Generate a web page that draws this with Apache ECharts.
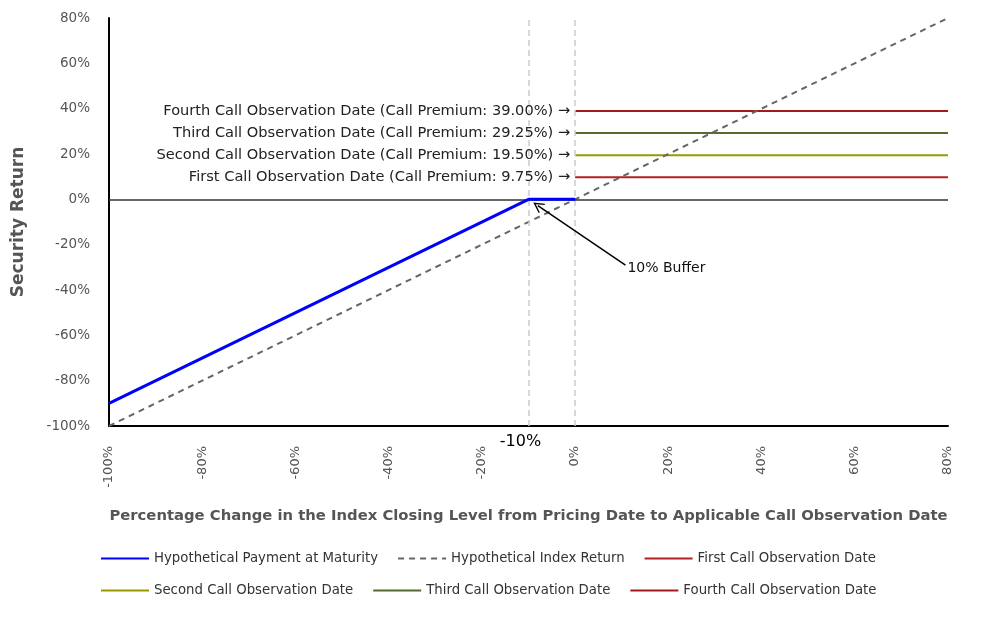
<!DOCTYPE html>
<html>
<head>
<meta charset="utf-8">
<script src="https://cdn.jsdelivr.net/npm/echarts@6/dist/echarts.min.js"></script>
<style>
  html, body { margin: 0; padding: 0; background: #fff; }
  #chart { width: 992px; height: 618px; }
</style>
</head>
<body>
<div id="chart"></div>
<script>
// data
var payoffX = [-100, -10, 0];
var payoffY = [-90, 0, 0];
var indexX = [-100, 80];
var indexY = [-100, 80];
var callNames = ['First Call Observation Date', 'Second Call Observation Date',
    'Third Call Observation Date', 'Fourth Call Observation Date'];
var callPremiums = [9.75, 19.5, 29.25, 39];
var callLabels = ['9.75%', '19.50%', '29.25%', '39.00%'];
var callColors = ['#b22222', '#999900', '#556b2f', '#a31a1a'];
var callRange = [0, 80];
var bufferLevel = -10;
var axisTicks = [-100, 80, 20];

var font = 'DejaVu Sans';
// thin V arrow head, tip on top
var arrowHead = 'path://M0,0 L7,11 L5.6,12 L0,3.2 L-5.6,12 L-7,11 Z';

function pairs(xs, ys) {
    return xs.map(function (x, i) { return [x, ys[i]]; });
}

var series = [
    {
        name: 'Hypothetical Payment at Maturity',
        type: 'line',
        symbol: 'none',
        z: 5,
        lineStyle: { color: '#0000ff', width: 3 },
        itemStyle: { color: '#0000ff' },
        data: pairs(payoffX, payoffY),
        markLine: {
            silent: true,
            symbol: 'none',
            label: { show: false },
            data: [
                { xAxis: bufferLevel, lineStyle: { color: '#cccccc', type: [6, 4], width: 1.5 } },
                { xAxis: 0, lineStyle: { color: '#cccccc', type: [6, 4], width: 1.5 } },
                { yAxis: 0, lineStyle: { color: '#333333', type: 'solid', width: 1.5 } },
                [
                    { coord: [10.8, -29], symbol: 'none' },
                    { coord: [-8, -2.8], symbol: arrowHead, symbolSize: [11, 11],
                      lineStyle: { color: '#000', type: 'solid', width: 1.5 } }
                ]
            ]
        },
        markPoint: {
            silent: true,
            symbol: 'circle',
            symbolSize: 0,
            data: [{
                coord: [11, -30.5],
                label: {
                    show: true, position: 'right', distance: 1,
                    formatter: '10% Buffer',
                    fontFamily: font, fontSize: 14, color: '#111'
                }
            }]
        }
    },
    {
        name: 'Hypothetical Index Return',
        type: 'line',
        symbol: 'none',
        z: 4,
        lineStyle: { color: '#666666', width: 2, type: [6, 5] },
        itemStyle: { color: '#666666' },
        data: pairs(indexX, indexY)
    }
];

callNames.forEach(function (name, i) {
    var lvl = callPremiums[i];
    series.push({
        name: name,
        type: 'line',
        symbol: 'none',
        z: 3,
        lineStyle: { color: callColors[i], width: 2 },
        itemStyle: { color: callColors[i] },
        data: [[callRange[0], lvl], [callRange[1], lvl]],
        markPoint: {
            silent: true,
            symbol: 'circle',
            symbolSize: 0,
            data: [{
                coord: [callRange[0], lvl],
                label: {
                    show: true, position: 'left', distance: 5,
                    formatter: name + ' (Call Premium: ' + callLabels[i] + ') \u2192',
                    fontFamily: font, fontSize: 14.6, color: '#222'
                }
            }]
        }
    });
});

var legendText = { fontFamily: font, fontSize: 13.3, color: '#333' };
var legendBase = {
    left: 95, itemWidth: 48, itemHeight: 10, itemGap: 19,
    itemStyle: { opacity: 0 },
    textStyle: legendText
};

var option = {
    animation: false,
    backgroundColor: '#fff',
    grid: { left: 109, right: 44, top: 18, bottom: 192 },
    legend: [
        Object.assign({ top: 547,
            data: ['Hypothetical Payment at Maturity', 'Hypothetical Index Return', callNames[0]] }, legendBase),
        Object.assign({ top: 579,
            data: [callNames[1], callNames[2], callNames[3]] }, legendBase)
    ],
    xAxis: {
        type: 'value',
        min: axisTicks[0], max: axisTicks[1], interval: axisTicks[2],
        name: 'Percentage Change in the Index Closing Level from Pricing Date to Applicable Call Observation Date',
        nameLocation: 'middle',
        nameGap: 83,
        nameTextStyle: { fontFamily: font, fontSize: 14.8, fontWeight: 'bold', color: '#555', verticalAlign: 'top' },
        axisLine: { onZero: false, lineStyle: { color: '#000', width: 2 } },
        axisTick: { show: false },
        splitLine: { show: false },
        axisLabel: {
            rotate: 90, margin: 20,
            fontFamily: font, fontSize: 13, color: '#555',
            formatter: '{value}%'
        }
    },
    yAxis: {
        type: 'value',
        min: axisTicks[0], max: axisTicks[1], interval: axisTicks[2],
        name: 'Security Return',
        nameLocation: 'middle',
        nameGap: 82,
        nameTextStyle: { fontFamily: font, fontSize: 17, fontWeight: 'bold', color: '#555' },
        axisLine: { show: true, onZero: false, lineStyle: { color: '#000', width: 2 } },
        axisTick: { show: false },
        splitLine: { show: false },
        axisLabel: {
            margin: 19,
            fontFamily: font, fontSize: 13.5, color: '#555',
            formatter: '{value}%'
        }
    },
    series: series
};

var chart = echarts.init(document.getElementById('chart'));
chart.setOption(option);

// "-10%" label under the buffer line, below the x axis
var p = chart.convertToPixel({ gridIndex: 0 }, [bufferLevel, axisTicks[0]]);
chart.setOption({
    graphic: [{
        type: 'text',
        x: p[0] - 8, y: p[1] + 16,
        style: {
            text: bufferLevel + '%',
            font: '16px ' + font,
            fill: '#000',
            align: 'center',
            verticalAlign: 'middle'
        }
    }]
});
</script>
</body>
</html>
